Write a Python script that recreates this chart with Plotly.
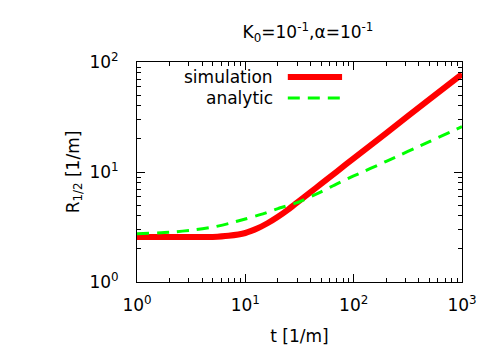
import plotly.graph_objects as go

# values (log-log)
t_sim = [1, 2, 3, 5, 7, 10, 13, 16, 20, 25, 30, 40, 50, 70, 100, 200, 500, 1000]
r_sim = [2.56, 2.56, 2.56, 2.57, 2.63, 2.79, 3.08, 3.42, 3.92, 4.58, 5.27, 6.55,
         7.8, 10.1, 13.3, 22.6, 45.7, 77.6]

t_ana = [1, 2, 3.5, 5, 7, 10, 15, 20, 30, 50, 70, 100, 200, 500, 1000]
r_ana = [2.75, 2.83, 2.99, 3.15, 3.4, 3.74, 4.2, 4.65, 5.27, 6.6, 7.8, 9.2,
         12.5, 18.9, 25.8]

x_ticks = [1, 10, 100, 1000]
x_labels = ['10<sup>0</sup>', '10<sup>1</sup>', '10<sup>2</sup>', '10<sup>3</sup>']
y_ticks = [1, 10, 100]
y_labels = ['10<sup>0</sup>', '10<sup>1</sup>', '10<sup>2</sup>']

FONT = 'DejaVu Sans'
RED = '#ff0000'
GREEN = '#00ff00'


def minor_vals(decades):
    return [m * 10 ** d for d in decades for m in range(2, 10)]


fig = go.Figure()
fig.add_trace(go.Scatter(
    x=t_sim, y=r_sim, mode='lines', name='simulation',
    line=dict(color=RED, width=6, shape='spline', smoothing=0.6),
))
fig.add_trace(go.Scatter(
    x=t_ana, y=r_ana, mode='lines', name='analytic',
    line=dict(color=GREEN, width=3, dash='12px,8px', shape='spline', smoothing=0.6),
))

axis_common = dict(
    type='log', showgrid=False, zeroline=False,
    showline=True, linecolor='black', linewidth=1, mirror='allticks',
    ticks='inside', ticklen=8, tickcolor='black', tickwidth=1,
    tickfont=dict(family=FONT, size=17, color='black'),
    tickmode='array',
)

fig.update_xaxes(
    **axis_common,
    range=[0, 3], tickvals=x_ticks, ticktext=x_labels,
    ticklabelstandoff=8,
    minor=dict(ticks='inside', ticklen=4, tickcolor='black', tickwidth=1,
               tickmode='array', tickvals=minor_vals([0, 1, 2])),
    title=dict(text='t [1/m]', font=dict(family=FONT, size=17, color='black'),
               standoff=15),
)
fig.update_yaxes(
    **axis_common,
    range=[0, 2], tickvals=y_ticks, ticktext=y_labels,
    ticklabelstandoff=14,
    minor=dict(ticks='inside', ticklen=4, tickcolor='black', tickwidth=1,
               tickmode='array', tickvals=minor_vals([0, 1])),
    title=dict(text='R<sub>1/2</sub> [1/m]',
               font=dict(family=FONT, size=17, color='black'), standoff=5),
)

# gnuplot-style key: label on the left, line sample on the right
fig.add_annotation(x=0.424, y=0.932, xref='paper', yref='paper',
                   text='simulation', showarrow=False,
                   xanchor='right', yanchor='middle',
                   font=dict(family=FONT, size=17, color='black'))
fig.add_annotation(x=0.424, y=0.836, xref='paper', yref='paper',
                   text='analytic', showarrow=False,
                   xanchor='right', yanchor='middle',
                   font=dict(family=FONT, size=17, color='black'))
fig.add_shape(type='line', xref='paper', yref='paper',
              x0=0.464, x1=0.631, y0=0.932, y1=0.932,
              line=dict(color=RED, width=6))
fig.add_shape(type='line', xref='paper', yref='paper',
              x0=0.464, x1=0.631, y0=0.836, y1=0.836,
              line=dict(color=GREEN, width=3, dash='12px,8px'))

# the page body adds an 8px offset, so margins are shifted to compensate
fig.update_layout(
    width=500, height=350,
    margin=dict(l=129, r=46, t=54, b=76, autoexpand=False),
    paper_bgcolor='white', plot_bgcolor='white',
    showlegend=False,
    title=dict(text='K<sub>0</sub>=10<sup>-1</sup>,α=10<sup>-1</sup>',
               x=0.6, xanchor='center', y=0.93, yanchor='middle',
               font=dict(family=FONT, size=17, color='black')),
)

fig.write_html('out.html')
